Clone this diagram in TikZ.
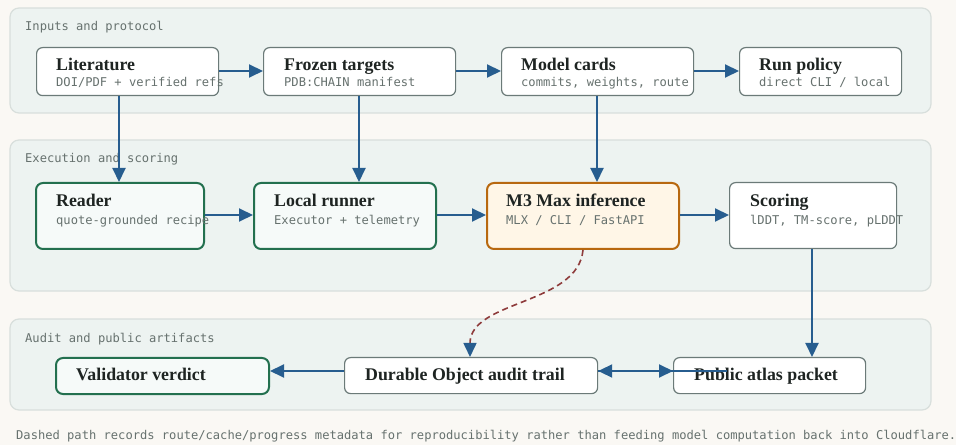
\documentclass[tikz,border=0pt]{standalone}
\usepackage{fontspec}
\setmainfont{Liberation Serif}
\setmonofont{DejaVu Sans Mono}
\usetikzlibrary{arrows.meta}
\definecolor{bgc}{HTML}{FAF8F4}
\definecolor{panelc}{HTML}{EDF3F1}
\definecolor{paneld}{HTML}{D8DFDC}
\definecolor{grayb}{HTML}{6B7A78}
\definecolor{greenb}{HTML}{23704F}
\definecolor{greenf}{HTML}{F6FAF9}
\definecolor{orangeb}{HTML}{B8680F}
\definecolor{orangef}{HTML}{FFF6E7}
\definecolor{bluea}{HTML}{275D8F}
\definecolor{reddash}{HTML}{8E3B3B}
\definecolor{txt}{HTML}{1E2422}
\definecolor{subt}{HTML}{66716E}
\tikzset{
  panel/.style={draw=paneld, fill=panelc, line width=1.2bp, rounded corners=9bp},
  plabel/.style={anchor=base west, inner sep=0, font=\fontsize{12.15}{14}\selectfont\ttfamily, text=subt},
  graybox/.style={draw=grayb, fill=white, line width=1.2bp, rounded corners=6bp},
  greenbox/.style={draw=greenb, fill=greenf, line width=2bp, rounded corners=7bp},
  orangebox/.style={draw=orangeb, fill=orangef, line width=2bp, rounded corners=7bp},
  ttl/.style={anchor=base west, inner sep=0, font=\fontsize{17.9}{20}\selectfont\bfseries, text=txt},
  sub/.style={anchor=base west, inner sep=0, font=\fontsize{12.15}{14}\selectfont\ttfamily, text=subt},
  flow/.style={draw=bluea, line width=2bp, -{Triangle[length=14bp,width=13bp]}},
  dashflow/.style={draw=reddash, line width=1.6bp, dash pattern=on 6bp off 4bp, -{Triangle[length=14bp,width=13bp,color=bluea,fill=bluea]}}
}
\begin{document}
\begin{tikzpicture}[x=1bp,y=-1bp]
\path[fill=bgc] (0,0) rectangle (956,445);
\useasboundingbox (0,0) rectangle (956,445);
% panels
\path[panel] (10,8) rectangle (931,113);
\path[panel] (10,140) rectangle (931,291);
\path[panel] (10,319) rectangle (931,410);
\node[plabel] (p1) at (25,31) {Inputs and protocol};
\node[plabel] (p2) at (25,163) {Execution and scoring};
\node[plabel] (p3) at (25,343) {Audit and public artifacts};
% row 1
\node[graybox, inner sep=0, minimum width=182bp, minimum height=48bp, anchor=north west] (litb) at (36,47) {};
\node[graybox, inner sep=0, minimum width=192bp, minimum height=48bp, anchor=north west] (frzb) at (263,47) {};
\node[graybox, inner sep=0, minimum width=192bp, minimum height=48bp, anchor=north west] (modb) at (501,47) {};
\node[graybox, inner sep=0, minimum width=162bp, minimum height=48bp, anchor=north west] (runb) at (739,47) {};
\node[ttl] (litt) at (56,71) {Literature};
\node[sub] (lits) at (56,86.5) {DOI/PDF + verified refs};
\node[ttl] (frzt) at (284,71) {Frozen targets};
\node[sub] (frzs) at (284,86.5) {PDB:CHAIN manifest};
\node[ttl] (modt) at (521,71) {Model cards};
\node[sub] (mods) at (521,86.5) {commits, weights, route};
\node[ttl] (runt) at (759,71) {Run policy};
\node[sub] (runs) at (759,86.5) {direct CLI / local};
% row 2
\node[greenbox, inner sep=0, minimum width=168bp, minimum height=66bp, anchor=north west] (rdr) at (35,182) {};
\node[greenbox, inner sep=0, minimum width=182bp, minimum height=66bp, anchor=north west] (loc) at (253,182) {};
\node[orangebox, inner sep=0, minimum width=192bp, minimum height=66bp, anchor=north west] (m3) at (486,182) {};
\node[graybox, inner sep=0, minimum width=167bp, minimum height=66bp, anchor=north west] (scr) at (729,182) {};
\node[ttl] (rdrt) at (56,207) {Reader};
\node[sub] (rdrs) at (56,225) {quote-grounded recipe};
\node[ttl] (loct) at (274,207) {Local runner};
\node[sub] (locs) at (274,225) {Executor + telemetry};
\node[ttl] (m3t) at (506,207) {M3 Max inference};
\node[sub] (m3s) at (506,225) {MLX / CLI / FastAPI};
\node[ttl] (scrt) at (750,207) {Scoring};
\node[sub] (scrs) at (750,225) {lDDT, TM-score, pLDDT};
% row 3
\node[greenbox, inner sep=0, minimum width=213bp, minimum height=36bp, anchor=north west] (val) at (55,357) {};
\node[graybox, inner sep=0, minimum width=253bp, minimum height=36bp, anchor=north west] (dur) at (344,357) {};
\node[graybox, inner sep=0, minimum width=192bp, minimum height=36bp, anchor=north west] (pub) at (673,357) {};
\node[ttl] (valt) at (76,381) {Validator verdict};
\node[ttl] (durt) at (365,381) {Durable Object audit trail};
\node[ttl] (pubt) at (694,381) {Public atlas packet};
% arrows row 1
\draw[flow] (litb.east |- 0,71) -- (frzb.west |- 0,71);
\draw[flow] (frzb.east |- 0,71) -- (modb.west |- 0,71);
\draw[flow] (modb.east |- 0,71) -- (runb.west |- 0,71);
% down arrows
\draw[flow] (litb.south -| 119,0) -- (rdr.north -| 119,0);
\draw[flow] (frzb.south -| 359,0) -- (loc.north -| 359,0);
\draw[flow] (modb.south -| 597,0) -- (m3.north -| 597,0);
% row 2 arrows
\draw[flow] (rdr.east |- 0,215) -- (loc.west |- 0,215);
\draw[flow] (loc.east |- 0,215) -- (m3.west |- 0,215);
\draw[flow] (m3.east |- 0,215) -- (scr.west |- 0,215);
\draw[flow] (scr.south -| 812,0) -- (pub.north -| 812,0);
% row 3 arrows
\draw[flow] (dur.west |- 0,371) -- (val.east |- 0,371);
\coordinate (pubin) at (727,371);
\draw[flow] (pubin) -- (dur.east |- 0,371);
\draw[flow] (dur.east |- 0,371) -- (pub.west |- 0,371);
% dashed
\draw[dashflow] (m3.south -| 583,0) .. controls (578,305) and (470,300) .. (dur.north -| 470,0);
% footer
\node[plabel] (foot) at (16,439) {Dashed path records route/cache/progress metadata for reproducibility rather than feeding model computation back into Cloudflare.};
\end{tikzpicture}
\end{document}
